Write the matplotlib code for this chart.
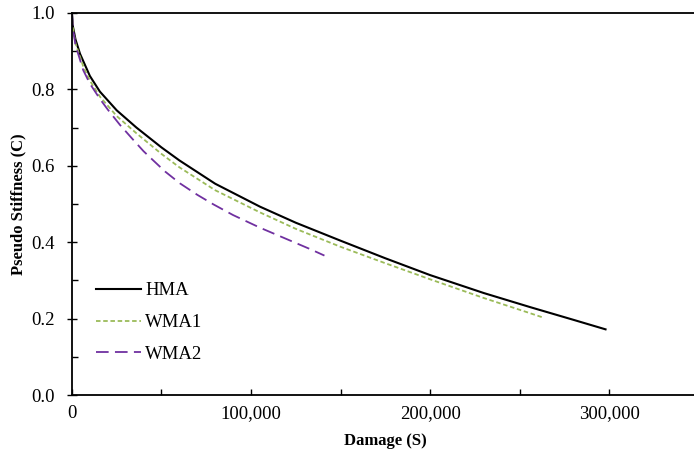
import matplotlib
matplotlib.use("Agg")
import matplotlib.pyplot as plt
from matplotlib.ticker import FuncFormatter, MultipleLocator

plt.rcParams['font.family'] = ['Liberation Serif', 'DejaVu Serif']

# damage (S) vs pseudo stiffness (C) for each mix
hma_s = [0, 500, 2000, 4500, 10000, 15600, 25000, 36000, 50000, 60000, 80000,
         105000, 125000, 150000, 175000, 200000, 230000, 256000, 280000, 298000]
hma_c = [1.0, 0.965, 0.93, 0.893, 0.835, 0.794, 0.745, 0.70, 0.648, 0.614, 0.553,
         0.493, 0.451, 0.404, 0.358, 0.314, 0.267, 0.230, 0.197, 0.172]

wma1_s = [0, 500, 2000, 6300, 10000, 15600, 25000, 36000, 50000, 60000, 80000,
          105000, 125000, 150000, 175000, 200000, 230000, 256000, 263700]
wma1_c = [1.0, 0.96, 0.92, 0.86, 0.823, 0.781, 0.730, 0.685, 0.631, 0.596, 0.536,
          0.478, 0.435, 0.388, 0.345, 0.303, 0.254, 0.214, 0.202]

wma2_s = [0, 500, 2000, 6300, 10000, 15600, 20000, 26800, 34200, 40000, 45400,
          52000, 60300, 70000, 79000, 90000, 105000, 115000, 125000, 133000, 141000]
wma2_c = [1.0, 0.96, 0.915, 0.85, 0.815, 0.775, 0.747, 0.707, 0.668, 0.638, 0.614,
          0.585, 0.554, 0.524, 0.499, 0.471, 0.438, 0.418, 0.398, 0.382, 0.365]

fig = plt.figure(figsize=(6.94, 4.61), dpi=100)
ax = fig.add_axes([0.1037, 0.143, 0.903, 0.829])

ax.plot(hma_s, hma_c, color='black', lw=1.5, label='HMA')
ax.plot(wma1_s, wma1_c, color='#9BBB59', lw=1.3, linestyle=(0, (2.5, 1.5)), label='WMA1')
ax.plot(wma2_s, wma2_c, color='#7030A0', lw=1.3, linestyle=(0, (7, 3.5)), label='WMA2')

ax.set_xlim(0, 350000)
ax.set_ylim(0, 1.0)
ax.xaxis.set_major_locator(MultipleLocator(100000))
ax.xaxis.set_minor_locator(MultipleLocator(50000))
ax.yaxis.set_major_locator(MultipleLocator(0.2))
ax.yaxis.set_minor_locator(MultipleLocator(0.1))
ax.xaxis.set_major_formatter(FuncFormatter(lambda v, p: f"{v:,.0f}"))
ax.yaxis.set_major_formatter(FuncFormatter(lambda v, p: f"{v:.1f}"))

ax.tick_params(axis='x', which='both', direction='in', length=4, width=1, labelsize=13.5, pad=7)
ax.tick_params(axis='y', which='major', direction='inout', length=7, width=1, labelsize=13.5, pad=9)
ax.tick_params(axis='y', which='minor', direction='in', length=4, width=1)
ax.tick_params(top=False, right=False, which='both')

for side in ['left', 'bottom', 'top']:
    ax.spines[side].set_linewidth(1.3)
ax.spines['right'].set_visible(False)

ax.set_xlabel('Damage (S)', fontsize=12, fontweight='bold', labelpad=8)
ax.set_ylabel('Pseudo Stiffness (C)', fontsize=12, fontweight='bold')
ax.yaxis.set_label_coords(-0.072, 0.5)

ax.legend(loc='upper left', bbox_to_anchor=(0.038, 0.295), frameon=False,
          fontsize=13.5, handlelength=2.4, handletextpad=0.25, labelspacing=0.78,
          borderpad=0, borderaxespad=0)

fig.savefig('out.png', dpi=100)
